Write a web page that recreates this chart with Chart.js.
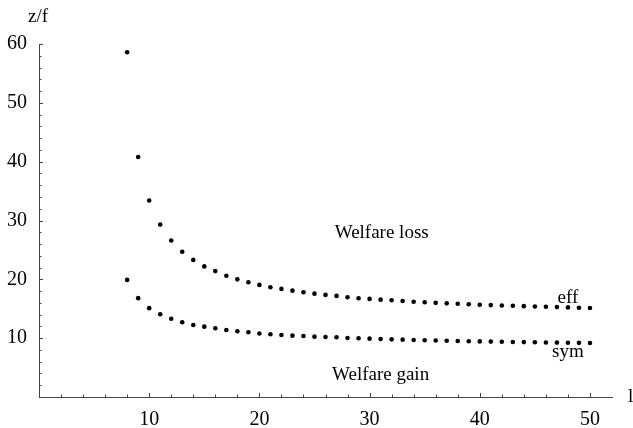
<!DOCTYPE html>
<html>
<head>
<meta charset="utf-8">
<script src="https://cdn.jsdelivr.net/npm/chart.js@4"></script>
<style>
html,body{margin:0;padding:0;background:#fff;}
canvas{display:block;}
</style>
</head>
<body>
<canvas id="c" width="633" height="428"></canvas>
<script>
// ---- data ----
const lValues = [8,9,10,11,12,13,14,15,16,17,18,19,20,21,22,23,24,25,26,27,28,29,30,31,32,33,34,35,36,37,38,39,40,41,42,43,44,45,46,47,48,49,50];
const effValues = [58.6,40.8,33.4,29.3,26.6,24.7,23.3,22.2,21.4,20.6,20.0,19.5,19.05,18.65,18.37,18.08,17.8,17.57,17.35,17.18,16.95,16.78,16.67,16.55,16.44,16.33,16.2,16.1,16.0,15.92,15.84,15.76,15.69,15.62,15.56,15.5,15.44,15.38,15.33,15.28,15.23,15.18,15.13];
const symValues = [19.9,16.8,15.1,14.06,13.3,12.7,12.24,11.96,11.68,11.4,11.17,11.0,10.8,10.66,10.54,10.43,10.37,10.26,10.2,10.15,10.03,9.98,9.92,9.86,9.8,9.75,9.7,9.64,9.6,9.56,9.52,9.48,9.45,9.42,9.39,9.36,9.33,9.3,9.27,9.25,9.22,9.2,9.17];
const xTickLabels = [10,20,30,40,50];
const yTickLabels = [10,20,30,40,50,60];
const annotations = [
  {text:'Welfare loss', l:31.1, z:27.9},
  {text:'Welfare gain', l:31.0, z:3.7},
  {text:'eff', l:48.0, z:16.8},
  {text:'sym', l:48.0, z:7.6}
];
const xTitle = 'l';
const yTitle = 'z/f';

const FONT = "'Liberation Serif', 'Times New Roman', serif";
const AXIS = '#444';

const extras = {
  id:'extras',
  afterDraw(chart){
    const ctx = chart.ctx, xs = chart.scales.x, ys = chart.scales.y;
    const a = chart.chartArea;
    ctx.save();
    ctx.strokeStyle = AXIS; ctx.lineWidth = 1;
    ctx.beginPath();
    for (let v = 2; v <= 50; v += 2) {
      const px = Math.round(xs.getPixelForValue(v)) + 0.5;
      const len = v % 10 === 0 ? 4 : 2.5;
      ctx.moveTo(px, a.bottom); ctx.lineTo(px, a.bottom - len);
    }
    for (let v = 2; v <= 60; v += 2) {
      const py = Math.round(ys.getPixelForValue(v)) + 0.5;
      const len = v % 10 === 0 ? 4 : 2.5;
      ctx.moveTo(a.left, py); ctx.lineTo(a.left + len, py);
    }
    ctx.stroke();
    ctx.fillStyle = '#000';
    ctx.font = '19px ' + FONT;
    ctx.textAlign = 'center'; ctx.textBaseline = 'middle';
    annotations.forEach(t => {
      ctx.fillText(t.text, xs.getPixelForValue(t.l), ys.getPixelForValue(t.z));
    });
    ctx.fillText(yTitle, a.left - 1, 17);
    ctx.textAlign = 'left';
    ctx.fillText(xTitle, a.right + 16, a.bottom);
    ctx.restore();
  }
};

new Chart(document.getElementById('c'), {
  type:'scatter',
  data:{
    datasets:[
      {label:'eff', data:lValues.map((l,i)=>({x:l,y:effValues[i]})), backgroundColor:'#000', borderColor:'#000', pointRadius:2.3, pointBorderWidth:0, showLine:false},
      {label:'sym', data:lValues.map((l,i)=>({x:l,y:symValues[i]})), backgroundColor:'#000', borderColor:'#000', pointRadius:2.3, pointBorderWidth:0, showLine:false}
    ]
  },
  options:{
    responsive:false,
    animation:false,
    devicePixelRatio:1,
    layout:{padding:{top:44,right:21,left:0,bottom:0}},
    plugins:{legend:{display:false}, tooltip:{enabled:false}},
    scales:{
      x:{
        type:'linear', min:0, max:52,
        grid:{display:false, drawTicks:false},
        border:{display:true, color:AXIS, width:1},
        afterBuildTicks:s=>{ s.ticks = xTickLabels.map(v=>({value:v})); },
        afterFit:s=>{ s.height = 31; },
        ticks:{color:'#000', font:{family:FONT, size:20}, padding:11, maxRotation:0, autoSkip:false}
      },
      y:{
        type:'linear', min:0, max:60,
        grid:{display:false, drawTicks:false},
        border:{display:true, color:AXIS, width:1},
        afterBuildTicks:s=>{ s.ticks = yTickLabels.map(v=>({value:v})); },
        afterFit:s=>{ s.width = 39; },
        ticks:{color:'#000', font:{family:FONT, size:20}, padding:12, autoSkip:false}
      }
    }
  },
  plugins:[extras]
});
</script>
</body>
</html>
